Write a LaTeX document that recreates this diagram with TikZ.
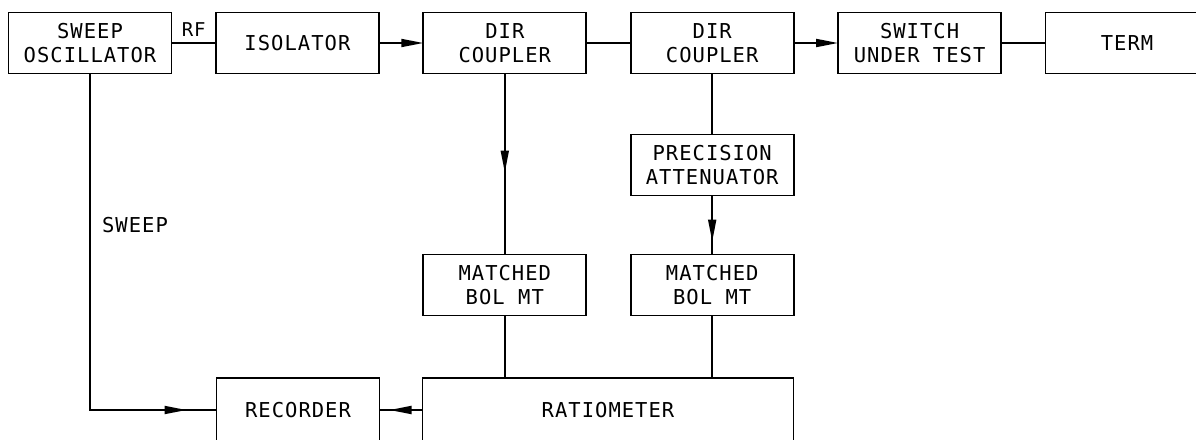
\documentclass[tikz,border=0pt]{standalone}
\usepackage{fontspec}
\newfontfamily\cadfont{DejaVu Sans Mono}[LetterSpace=5]
\usetikzlibrary{positioning, arrows.meta, decorations.markings}

\begin{document}
\begin{tikzpicture}[x=1pt, y=-1pt,
                blk/.style={draw, line width=1.8pt, minimum width=163pt, minimum height=61pt, outer sep=0pt,
                            inner sep=0pt, align=center, font=\cadfont\fontsize{20.5}{24}\selectfont},
                lbl/.style={inner sep=0pt, font=\cadfont\fontsize{20.5}{24}\selectfont},
                wire/.style={line width=1.8pt},
                arr/.style={wire, -{Triangle[length=22pt, width=8pt]}},
                tipat/.style={wire, postaction={decorate},
                              decoration={markings, mark=at position #1 with {\arrow{Triangle[length=22pt, width=8pt]}}}},
            ]
                \path[use as bounding box, clip] (0,0) rectangle (1196,439);

                % top row
                \node[blk] (osc) at (90,43) {SWEEP\\OSCILLATOR};
                \node[blk, right=44.4pt of osc] (iso) {ISOLATOR};
                \node[blk, right=44.4pt of iso] (dc1) {DIR\\COUPLER};
                \node[blk, right=44.4pt of dc1] (dc2) {DIR\\COUPLER};
                \node[blk, right=44.4pt of dc2] (sut) {SWITCH\\UNDER TEST};
                \node[blk, right=44.4pt of sut] (term) {TERM};

                % detector branch
                \node[blk, below=61pt of dc2] (att) {PRECISION\\ATTENUATOR};
                \node[blk, below=59pt of att] (mbm2) {MATCHED\\BOL MT};
                \node[blk] (mbm1) at (dc1 |- mbm2) {MATCHED\\BOL MT};

                % bottom row
                \node[blk, minimum height=64pt] (rec) at (298,410) {RECORDER};
                \node[blk, minimum height=64pt, minimum width=371pt, right=43pt of rec] (rat) {RATIOMETER};

                % connectors
                \draw[wire] (osc) -- node[lbl, above=6pt, font=\cadfont\fontsize{19}{22}\selectfont] (rf) {RF} (iso);
                \draw[arr] (iso) -- (dc1);
                \draw[wire] (dc1) -- (dc2);
                \draw[arr] (dc2) -- (sut);
                \draw[wire] (sut) -- (term);
                \draw[tipat=99pt] (dc1.south) -- (mbm1.north);
                \draw[wire] (dc2) -- (att);
                \draw[tipat=-13pt] (att.south) -- (mbm2.north);
                \draw[wire] (mbm1.south) -- (mbm1.south |- rat.north);
                \draw[wire] (mbm2.south) -- (mbm2.south |- rat.north);
                \draw[tipat=-10pt] (rat.west) -- (rec.east);
                \draw[tipat=-30pt] (osc.south) |- (rec.west);

                % Label
                \node[lbl] (sweep) at (135,225.5) {SWEEP};
            \end{tikzpicture}
\end{document}
